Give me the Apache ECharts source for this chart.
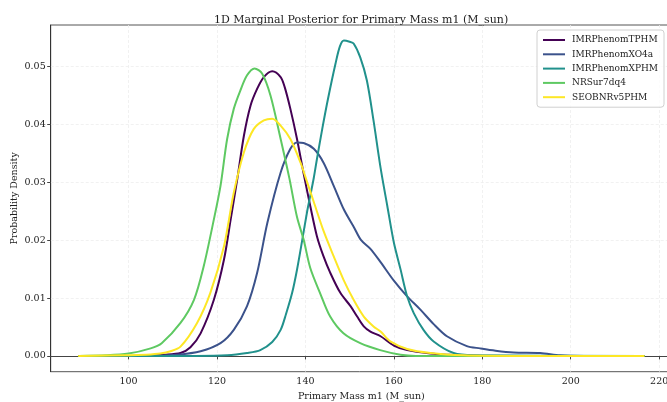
<!DOCTYPE html>
<html>
<head>
<meta charset="utf-8">
<script src="https://cdn.jsdelivr.net/npm/echarts@6/dist/echarts.min.js"></script>
<style>html,body{margin:0;padding:0;background:#fff}#c{width:667px;height:402px}</style>
</head>
<body>
<div id="c"></div>
<script>
const seriesNames = ['IMRPhenomTPHM', 'IMRPhenomXO4a', 'IMRPhenomXPHM', 'NRSur7dq4', 'SEOBNRv5PHM'];
const seriesColors = ['#440154', '#3b528b', '#21918c', '#5ec962', '#fde725'];

const tphmX = [88.8, 100, 105, 108, 111.75, 114, 116.3, 119.3, 121.6, 123.1, 124.6, 126.1, 127.6, 129.1, 130.6, 132.5, 134.4, 135.3, 136.6, 138.1, 139.6, 141.1, 142.6, 144.1, 145.6, 147.9, 150.2, 151.7, 153.2, 154.7, 157.0, 160.0, 163.0, 168.3, 172.0, 180, 216.5];
const tphmY = [0, 0, 0.0001, 0.0002, 0.0005, 0.0015, 0.0039, 0.0097, 0.0167, 0.0236, 0.0306, 0.0381, 0.0433, 0.0462, 0.0482, 0.0492, 0.0482, 0.0465, 0.0427, 0.0375, 0.0315, 0.0259, 0.0207, 0.0172, 0.0144, 0.0109, 0.0086, 0.0068, 0.0051, 0.0042, 0.0034, 0.0018, 0.0010, 0.0004, 0.0002, 0, 0];

const xo4aX = [88.8, 105, 111.0, 116.3, 120.8, 123.8, 126.8, 129.1, 131.4, 134.4, 136.6, 138.1, 139.6, 141.9, 144.1, 146.4, 148.7, 151.0, 152.6, 154.7, 157.0, 160.0, 163.0, 166.0, 169.0, 172.0, 176.5, 179.5, 183.0, 187.1, 193.1, 197.6, 203, 216.5];
const xo4aY = [0, 0, 0.0002, 0.0008, 0.0022, 0.0045, 0.0086, 0.0144, 0.0230, 0.0317, 0.0358, 0.0369, 0.0368, 0.0358, 0.0334, 0.0294, 0.0253, 0.0222, 0.0200, 0.0185, 0.0162, 0.0130, 0.0103, 0.0080, 0.0055, 0.0034, 0.0017, 0.0013, 0.0009, 0.0006, 0.0005, 0.0001, 0, 0];

const xphmX = [88.8, 115, 122.3, 126.8, 129.8, 132.5, 134.4, 135.6, 137.0, 138.1, 139.3, 140.4, 141.1, 141.9, 142.6, 143.8, 145.1, 146.8, 147.8, 148.7, 150.0, 150.9, 152.4, 153.9, 155.4, 157.0, 158.5, 160.0, 161.5, 163.0, 164.5, 166.7, 169.0, 173.5, 178, 216.5];
const xphmY = [0, 0, 0.0001, 0.0005, 0.0010, 0.0024, 0.0045, 0.0072, 0.0109, 0.0149, 0.0201, 0.0250, 0.0277, 0.0308, 0.0340, 0.0392, 0.0444, 0.0505, 0.0535, 0.0545, 0.0543, 0.0540, 0.0516, 0.0476, 0.0407, 0.0325, 0.0260, 0.0196, 0.0150, 0.0103, 0.0074, 0.0045, 0.0025, 0.0005, 0.0001, 0];

const nrsurX = [88.8, 95, 100, 105, 107.5, 111.75, 114.8, 117.0, 119.3, 120.8, 122.3, 123.8, 125.3, 126.8, 128.5, 130.2, 132.1, 134.4, 136.4, 138.1, 139.6, 141.1, 143.4, 145.6, 148.6, 152.4, 156.9, 161.5, 165, 216.5];
const nrsurY = [0, 0.0001, 0.0004, 0.0013, 0.0022, 0.0057, 0.0097, 0.0155, 0.0236, 0.0294, 0.0375, 0.0427, 0.0459, 0.0485, 0.0497, 0.0488, 0.0450, 0.0375, 0.0306, 0.0240, 0.0201, 0.0152, 0.0107, 0.0068, 0.0039, 0.0022, 0.0010, 0.0002, 0, 0];

const seobX = [88.8, 100, 104, 107.2, 109.5, 111.75, 115.5, 118.5, 121.6, 123.8, 126.1, 128.3, 130.6, 132.5, 134.4, 136.6, 138.9, 140.4, 141.9, 144.1, 146.4, 148.6, 150.9, 153.2, 155.4, 157.0, 159.2, 163.0, 168.3, 175.8, 187, 216.5];
const seobY = [0, 0.0001, 0.0002, 0.0004, 0.0008, 0.0016, 0.0057, 0.0109, 0.0190, 0.0282, 0.0352, 0.0392, 0.0407, 0.0410, 0.0398, 0.0375, 0.0334, 0.0300, 0.0266, 0.0216, 0.0172, 0.0132, 0.0097, 0.0068, 0.0051, 0.0042, 0.0025, 0.0012, 0.0005, 0.0001, 0, 0];

const xTicks = [100, 120, 140, 160, 180, 200, 220];
const yTicks = [0, 0.01, 0.02, 0.03, 0.04, 0.05];

const allX = [tphmX, xo4aX, xphmX, nrsurX, seobX];
const allY = [tphmY, xo4aY, xphmY, nrsurY, seobY];

const FONT = 'DejaVu Serif';
const chart = echarts.init(document.getElementById('c'), null, {renderer: 'canvas'});

const series = seriesNames.map((name, i) => ({
  name: name,
  type: 'line',
  data: allX[i].map((x, k) => [x, allY[i][k]]),
  showSymbol: false,
  symbol: 'none',
  smooth: 0.3,
  lineStyle: {width: 2, color: seriesColors[i], join: 'round', cap: 'round'},
  itemStyle: {color: seriesColors[i]},
  emphasis: {disabled: true},
  animation: false
}));

chart.setOption({
  animation: false,
  backgroundColor: '#ffffff',
  textStyle: {fontFamily: FONT},
  title: {
    text: '1D Marginal Posterior for Primary Mass m1 (M_sun)',
    left: 209, top: 10,
    textStyle: {fontFamily: FONT, fontSize: 11, fontWeight: 'normal', color: '#222'}
  },
  legend: {
    data: seriesNames,
    orient: 'vertical',
    left: 537, top: 30,
    icon: 'rect',
    itemWidth: 22, itemHeight: 2,
    itemGap: 2.3,
    padding: [4, 6, 4, 6],
    backgroundColor: 'rgba(255,255,255,0.8)',
    borderColor: '#d0d0d0', borderWidth: 1, borderRadius: 3,
    textStyle: {fontFamily: FONT, fontSize: 9, color: '#222', lineHeight: 12, padding: [0, 0, 0, 2]}
  },
  grid: {
    left: 50.7, right: -5, top: 25, bottom: 30.3,
    outerBoundsMode: 'none',
    containLabel: false,
    show: true, borderColor: '#555', borderWidth: 1, backgroundColor: 'transparent'
  },
  xAxis: {
    type: 'value', min: 82.4, max: 222.9,
    name: 'Primary Mass m1 (M_sun)', nameLocation: 'middle', nameGap: 20,
    nameMoveOverlap: false,
    nameTextStyle: {fontFamily: FONT, fontSize: 9.5, color: '#222'},
    axisLine: {show: true, lineStyle: {color: '#444', width: 1}},
    axisTick: {show: true, length: 3.5, customValues: xTicks, lineStyle: {color: '#444'}},
    axisLabel: {customValues: xTicks, fontFamily: FONT, fontSize: 9.5, color: '#222', margin: 5},
    splitLine: {show: true, lineStyle: {color: '#ededed', type: [3, 2], width: 0.8}}
  },
  yAxis: {
    type: 'value', min: -0.00273, max: 0.0572,
    name: 'Probability Density', nameLocation: 'middle', nameGap: 31,
    nameMoveOverlap: false,
    nameTextStyle: {fontFamily: FONT, fontSize: 9.5, color: '#222'},
    axisLine: {show: true, lineStyle: {color: '#333', width: 1}},
    axisTick: {show: true, length: 3.5, customValues: yTicks, lineStyle: {color: '#444'}},
    axisLabel: {customValues: yTicks, fontFamily: FONT, fontSize: 9.5, color: '#222', margin: 5,
      formatter: v => v.toFixed(2)},
    splitLine: {show: true, lineStyle: {color: '#ededed', type: [3, 2], width: 0.8}}
  },
  series: series
});
</script>
</body>
</html>
